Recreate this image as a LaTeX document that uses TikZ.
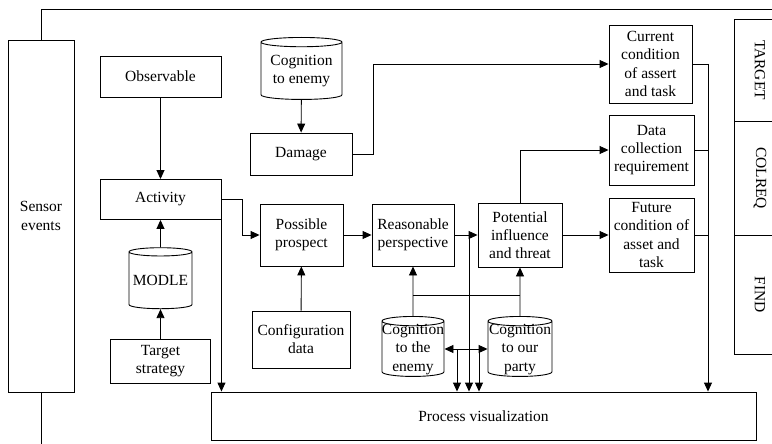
\documentclass[tikz,border=0pt]{standalone}
\usepackage{fontspec}
\setmainfont{Liberation Serif}
\usetikzlibrary{shapes.geometric,arrows.meta}
\newcommand{\boxfont}{\fontsize{15.5}{18.2}\selectfont}

\begin{document}
\begin{tikzpicture}[x=1pt, y=-1pt, line width=0.9pt,
            box/.style={rectangle, draw, inner sep=2pt, align=center, font=\boxfont},
            store/.style={cylinder, draw, shape border rotate=90, aspect=0.15, inner sep=0pt, align=center, font=\boxfont},
            tallstore/.style={store, text height=44pt, text depth=0pt},
            arrow/.style={-{Triangle[length=9pt,width=8pt]}},
            twoway/.style={{Triangle[length=9pt,width=8pt]}-{Triangle[length=9pt,width=8pt]}}
            ]
            \clip (0,0) rectangle (772,444);
            
            % Left column
            \node[box, minimum width=66, minimum height=352] (sensor) at (41,216) {Sensor\\events};
            \node[box, minimum width=121, minimum height=41] (observable) at (160.5,76.5) {Observable};
            \node[box, minimum width=121, minimum height=40] (activity) at (160.5,199.5) {Activity};
            \node[store, minimum width=63, minimum height=61] (modle) at (160.5,280.5) {MODLE};
            \node[box, minimum width=100, minimum height=44] (strategy) at (160.5,361) {Target\\strategy};
            
            % Middle
            \node[store, minimum width=81, minimum height=62] (enemycog) at (301.5,71) {Cognition\\to enemy};
            \node[box, minimum width=102, minimum height=42] (damage) at (301,154) {Damage};
            \node[box, minimum width=83, minimum height=62] (possible) at (301.5,235) {Possible\\prospect};
            \node[box, minimum width=82, minimum height=62] (reasonable) at (413,235) {Reasonable\\perspective};
            \node[box, minimum width=84, minimum height=64] (potential) at (520,235) {Potential\\influence\\and threat};
            \node[box, minimum width=98, minimum height=57] (config) at (301,339.5) {Configuration\\data};
            \node[tallstore, minimum width=62, minimum height=60] (cogthem) at (413,349) {Cognition\\to the\\enemy};
            \node[tallstore, minimum width=64, minimum height=60] (cogus) at (520,349) {Cognition\\to our\\party};
            
            % Right column
            \node[box, minimum width=83, minimum height=78] (current) at (650.5,64) {Current\\condition\\of assert\\and task};
            \node[box, minimum width=85, minimum height=70] (collect) at (651.5,150) {Data\\collection\\requirement};
            \node[box, minimum width=85, minimum height=74] (future) at (651.5,235) {Future\\condition of\\asset and\\task};
            \node[box, minimum width=52, minimum height=102] (target) at (760,70) {\rotatebox{-90}{TARGET}};
            \node[box, minimum width=52, minimum height=114] (colreq) at (760,178) {\rotatebox{-90}{COLREQ}};
            \node[box, minimum width=52, minimum height=119] (find) at (760,294.5) {\rotatebox{-90}{FIND}};
            
            % Bottom
            \node[box, minimum width=545, minimum height=48] (process) at (483.5,416) {Process visualization};
            
            % Junction points
            \coordinate (topedge) at (790,9);
            \coordinate (botedge) at (41,460);
            \coordinate (hubthem) at (413,295);
            \coordinate (hubus) at (520,295);
            \coordinate (tap) at (469,235);
            \coordinate (dropa) at (457,349);
            \coordinate (dropb) at (479,349);
            \coordinate (rail) at (708,64);
            
            % Outer lines
            \draw (sensor.north) |- (topedge);
            \draw (sensor.south) -- (botedge);
            
            % Left arrows
            \draw[arrow] (observable) -- (activity);
            \draw[arrow] (modle) -- (activity);
            \draw[arrow] (strategy) -- (modle);
            \draw[arrow] (activity.east) -- ++(21,0) |- (possible.west);
            \draw[arrow] (activity.south east) -- (activity.south east |- process.north);
            
            % Middle arrows
            \draw[arrow] (enemycog) -- (damage);
            \draw[arrow] (damage.east) -- ++(21,0) |- (current.west);
            \draw[arrow] (possible) -- (reasonable);
            \draw[arrow] (reasonable) -- (potential);
            \draw[arrow] (potential) -- (future);
            \draw[arrow] (potential.north) |- (collect.west);
            \draw[arrow] (config) -- (possible);
            \draw[arrow] (cogthem) -- (reasonable);
            \draw[arrow] (cogus) -- (potential);
            \draw (hubthem) -- (hubus);
            \draw[twoway] (cogthem.east) -- (cogus.west);
            \draw[arrow] (tap) -- (tap |- process.north);
            \draw[arrow] (dropa) -- (dropa |- process.north);
            \draw[arrow] (dropb) -- (dropb |- process.north);
            
            % Right rail
            \draw (current.east) -- (rail);
            \draw (collect.east) -- (collect.east -| rail);
            \draw (future.east) -- (future.east -| rail);
            \draw[arrow] (rail) -- (rail |- process.north);
            
\end{tikzpicture}
\end{document}
